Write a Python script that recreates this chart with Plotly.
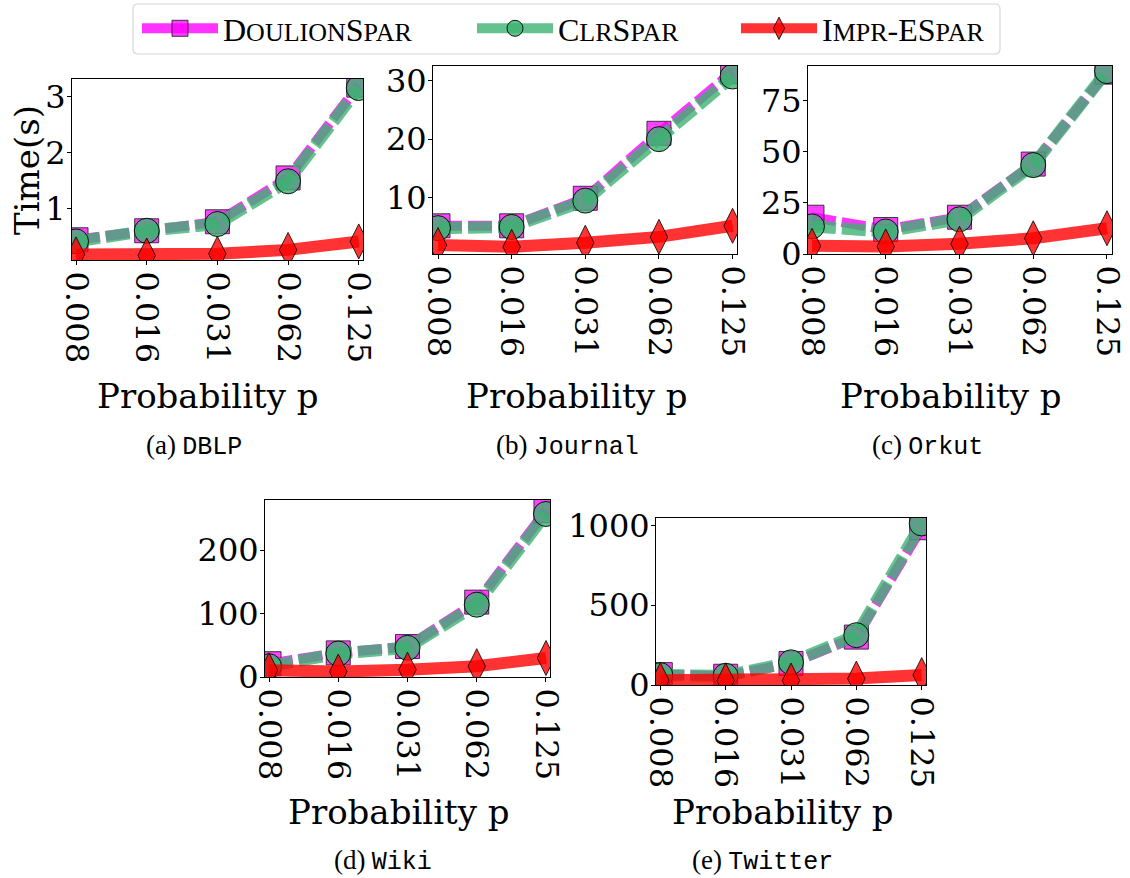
import plotly.graph_objects as go

W, H = 1130, 878

p_labels = ["0.008", "0.016", "0.031", "0.062", "0.125"]

datasets = ["DBLP", "Journal", "Orkut", "Wiki", "Twitter"]
captions = ["(a)", "(b)", "(c)", "(d)", "(e)"]

doulion_dblp = [0.45, 0.61, 0.77, 1.55, 3.2]
clr_dblp = [0.42, 0.61, 0.73, 1.49, 3.15]
impr_dblp = [0.19, 0.17, 0.2, 0.27, 0.42]

doulion_journal = [5.2, 5.2, 9.9, 21.0, 31.5]
clr_journal = [4.8, 5.0, 9.5, 20.0, 30.7]
impr_journal = [1.9, 1.6, 2.3, 3.3, 5.2]

doulion_orkut = [18, 12, 18, 44, 89]
clr_orkut = [13.5, 11, 17, 43.5, 89.5]
impr_orkut = [4, 3.7, 5, 7.7, 12.6]

doulion_wiki = [21, 38, 48, 118, 262]
clr_wiki = [17, 37, 46, 114, 257]
impr_wiki = [10.5, 8.5, 11.5, 17, 30]

doulion_twitter = [65, 55, 135, 300, 985]
clr_twitter = [62, 58, 142, 312, 1012]
impr_twitter = [30, 28, 28, 40, 62]

series = {
    "DBLP": (doulion_dblp, clr_dblp, impr_dblp),
    "Journal": (doulion_journal, clr_journal, impr_journal),
    "Orkut": (doulion_orkut, clr_orkut, impr_orkut),
    "Wiki": (doulion_wiki, clr_wiki, impr_wiki),
    "Twitter": (doulion_twitter, clr_twitter, impr_twitter),
}

y_ticks = {
    "DBLP": [1, 2, 3],
    "Journal": [10, 20, 30],
    "Orkut": [0, 25, 50, 75],
    "Wiki": [0, 100, 200],
    "Twitter": [0, 500, 1000],
}
y_ranges = {
    "DBLP": [0.09, 3.31],
    "Journal": [0.38, 32.5],
    "Orkut": [0, 92],
    "Wiki": [0, 279],
    "Twitter": [0, 1046],
}
x_ranges = {
    "DBLP": [-0.057, 4.06],
    "Journal": [-0.068, 4.06],
    "Orkut": [-0.054, 4.068],
    "Wiki": [-0.058, 4.058],
    "Twitter": [-0.066, 4.066],
}
# plot boxes in pixels: left, right, top, bottom
boxes = {
    "DBLP": (72, 363, 79, 260),
    "Journal": (433, 737, 66, 254),
    "Orkut": (808, 1112, 66, 254),
    "Wiki": (265, 550, 500, 677),
    "Twitter": (656, 926, 518, 685),
}
xtitle_pos = {
    "DBLP": (207, 396),
    "Journal": (576, 396),
    "Orkut": (950, 396),
    "Wiki": (398, 812),
    "Twitter": (782, 812),
}
caption_pos = {
    "DBLP": (194, 446),
    "Journal": (567, 446),
    "Orkut": (927, 446),
    "Wiki": (383, 861),
    "Twitter": (762, 861),
}

SMALL = "<span style='font-size:26px'>%s</span>"
names = [
    "D" + SMALL % "OULION" + "S" + SMALL % "PAR",
    "C" + SMALL % "LR" + "S" + SMALL % "PAR",
    "I" + SMALL % "MPR" + "-ES" + SMALL % "PAR",
]
legend_ids = ["legend", "legend2", "legend3"]
legend_left_px = [137, 472, 736]

styles = [
    dict(line=dict(color="rgba(255,0,255,0.8)", width=10, dash="24px,6px"),
         marker=dict(symbol="square", size=24, color="rgba(255,0,255,0.75)",
                     line=dict(color="rgba(40,40,40,0.9)", width=1))),
    dict(line=dict(color="rgba(60,179,113,0.8)", width=12, dash="24px,6px"),
         marker=dict(symbol="circle", size=25, color="rgba(60,179,113,0.8)",
                     line=dict(color="rgba(0,0,0,0.9)", width=1))),
    dict(line=dict(color="rgba(255,0,0,0.8)", width=12),
         marker=dict(symbol="diamond-tall", size=25, color="rgba(255,0,0,0.8)",
                     line=dict(color="rgba(0,0,0,0.8)", width=1))),
]

fig = go.Figure()
tick_font = dict(family="DejaVu Serif", size=32, color="black")

for i, ds in enumerate(datasets):
    xa = "x" if i == 0 else f"x{i+1}"
    ya = "y" if i == 0 else f"y{i+1}"
    for k, vals in enumerate(series[ds]):
        fig.add_trace(go.Scatter(
            x=p_labels, y=vals, xaxis=xa, yaxis=ya, name=names[k], showlegend=False,
            mode="lines+markers", **styles[k],
        ))

    l, rr, t, b = boxes[ds]
    ax_common = dict(showline=True, linecolor="black", linewidth=1, mirror=True,
                     ticks="outside", ticklen=4, tickcolor="black", tickwidth=1,
                     showgrid=False, zeroline=False, tickfont=tick_font,
                     automargin=False)
    xkey = "xaxis" if i == 0 else f"xaxis{i+1}"
    ykey = "yaxis" if i == 0 else f"yaxis{i+1}"
    fig.layout[xkey] = dict(
        ax_common, type="category", categoryorder="array", categoryarray=p_labels,
        range=x_ranges[ds], domain=[l / W, rr / W], anchor=ya, tickangle=90,
    )
    fig.layout[ykey] = dict(
        ax_common, range=y_ranges[ds], domain=[1 - b / H, 1 - t / H], anchor=xa,
        tickvals=y_ticks[ds], ticktext=[str(v) for v in y_ticks[ds]],
        ticklabelstandoff=-5,
    )

    tx, ty = xtitle_pos[ds]
    fig.add_annotation(x=tx / W, y=1 - ty / H, xref="paper", yref="paper",
                       text="Probability p", showarrow=False,
                       font=dict(family="DejaVu Serif", size=34, color="black"),
                       xanchor="center", yanchor="middle")
    cx, cy = caption_pos[ds]
    fig.add_annotation(x=cx / W, y=1 - cy / H, xref="paper", yref="paper",
                       text="<span style='font-size:27px'>" + captions[i] + "</span> "
                            "<span style='font-family:Liberation Mono'>" + ds + "</span>",
                       showarrow=False,
                       font=dict(family="Liberation Serif", size=25, color="black"),
                       xanchor="center", yanchor="middle")

# legend entries (no data, solid line glyphs as in the reference legend)
for k in range(3):
    st = styles[k]
    fig.add_trace(go.Scatter(
        x=[None], y=[None], xaxis="x", yaxis="y", name=names[k], showlegend=True,
        legend=legend_ids[k], mode="lines+markers",
        line=dict(color=st["line"]["color"], width=15),
        marker=st["marker"],
    ))

fig.add_annotation(x=27 / W, y=1 - 170 / H, xref="paper", yref="paper",
                   text="Time(s)", showarrow=False, textangle=-90,
                   font=dict(family="DejaVu Serif", size=34, color="black"),
                   xanchor="center", yanchor="middle")

# legend frame (decoration)
x0, x1, y0, y1 = 133 / W, 1000 / W, 1 - 4 / H, 1 - 54 / H
rx, ry = 5 / W, 5 / H
path = (f"M{x0+rx},{y0} L{x1-rx},{y0} Q{x1},{y0} {x1},{y0-ry} L{x1},{y1+ry} "
        f"Q{x1},{y1} {x1-rx},{y1} L{x0+rx},{y1} Q{x0},{y1} {x0},{y1+ry} "
        f"L{x0},{y0-ry} Q{x0},{y0} {x0+rx},{y0} Z")
fig.add_shape(type="path", path=path, xref="paper", yref="paper",
              line=dict(color="#d6d6d6", width=1.2), fillcolor="rgba(255,255,255,0)")

legend_common = dict(orientation="h", xanchor="left", y=1 - 1 / H, yanchor="top",
                     borderwidth=0, bgcolor="rgba(0,0,0,0)",
                     font=dict(family="Liberation Serif", size=32, color="black"),
                     itemsizing="trace", itemwidth=76)

fig.update_layout(
    width=W, height=H,
    margin=dict(l=0, r=0, t=0, b=0, autoexpand=False),
    paper_bgcolor="white", plot_bgcolor="white",
    showlegend=True,
    legend=dict(legend_common, x=legend_left_px[0] / W),
    legend2=dict(legend_common, x=legend_left_px[1] / W),
    legend3=dict(legend_common, x=legend_left_px[2] / W),
)

fig.write_html("out.html")
